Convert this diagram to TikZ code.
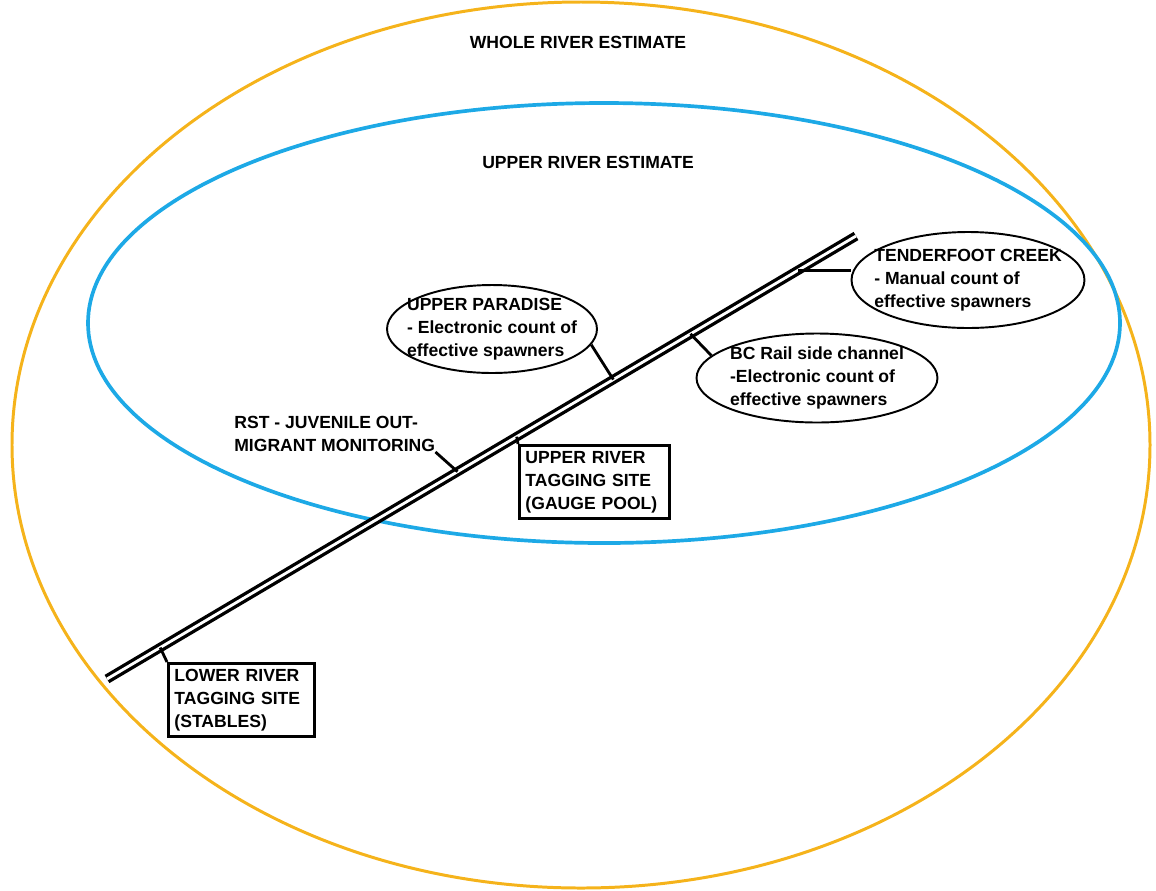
\documentclass[tikz,border=0pt]{standalone}
\usepackage{fontspec}
\setmainfont{Liberation Sans}
\usetikzlibrary{positioning,calc,shapes.geometric}
\definecolor{gold}{HTML}{F5B31B}
\definecolor{sky}{HTML}{1DA9E6}

\begin{document}
\begin{tikzpicture}[x=0.02cm,y=-0.02cm,
  every node/.style={text=black,font=\bfseries\fontsize{10}{13}\selectfont},
  spot/.style={draw,ellipse,line width=1.1pt,inner sep=0pt},
  site/.style={draw,rectangle,line width=1.7pt,anchor=north west,align=left,inner xsep=0.12cm,minimum height=1.46cm},
  tie/.style={line width=1.6pt}]
\useasboundingbox (0,0) rectangle (1156,890);
% The two estimate areas: whole river outside, upper river inside.
\draw[gold,line width=1.7pt] (581,445) ellipse [x radius=569,y radius=443];
\draw[sky,line width=2.1pt] (604,323) ellipse [x radius=516,y radius=220];
\node (whole) at (578,42) {WHOLE RIVER ESTIMATE};
\node (upper) at (588,162) {UPPER RIVER ESTIMATE};
% The river, with the points where each site joins it.
\coordinate (rs) at (107,679);
\coordinate (re) at (856,236);
\draw[line width=1.9pt,double,double distance=1.6pt] (rs) -- (re);
\foreach \name/\t in {jlow/0.071,jrst/0.468,jup/0.547,jpd/0.676,jbc/0.779,jtf/0.922}
  \coordinate (\name) at ($(rs)!\t!(re)$);
% Counting sites.
\node[spot,minimum width=4.2cm,minimum height=1.76cm] (pd) at (492,329) {};
\node[align=left] at (pd) {UPPER PARADISE\\- Electronic count of\\effective spawners};
\node[spot,minimum width=4.66cm,minimum height=1.92cm] (tf) at (968,280) {};
\node[align=left] at (tf) {TENDERFOOT CREEK\\- Manual count of\\effective spawners};
\node[spot,minimum width=4.82cm,minimum height=1.78cm] (bc) at (817,378) {};
\node[align=left] at (bc) {BC Rail side channel\\-Electronic count of\\effective spawners};
\node[align=left,anchor=west,inner sep=0pt] (rst) at (234,434) {RST - JUVENILE OUT-\\MIGRANT MONITORING};
% Tagging sites.
\node[site,text width=2.76cm] (upsite) at (518,444) {UPPER RIVER\\TAGGING SITE\\(GAUGE POOL)};
\node[site,text width=2.68cm] (lowsite) at (167,662) {LOWER RIVER\\TAGGING SITE\\(STABLES)};
% Ties from each site to the river.
\draw[tie] (pd.-9) -- (jpd);
\draw[tie] (bc.168) -- (jbc);
\draw[tie] (jtf) -- (jtf -| tf.west);
\draw[tie] (rst.south east) -- (jrst);
\draw[tie] (jup) -- (upsite.north west);
\draw[tie] (jlow) -- (lowsite.north west);
\end{tikzpicture}
\end{document}
